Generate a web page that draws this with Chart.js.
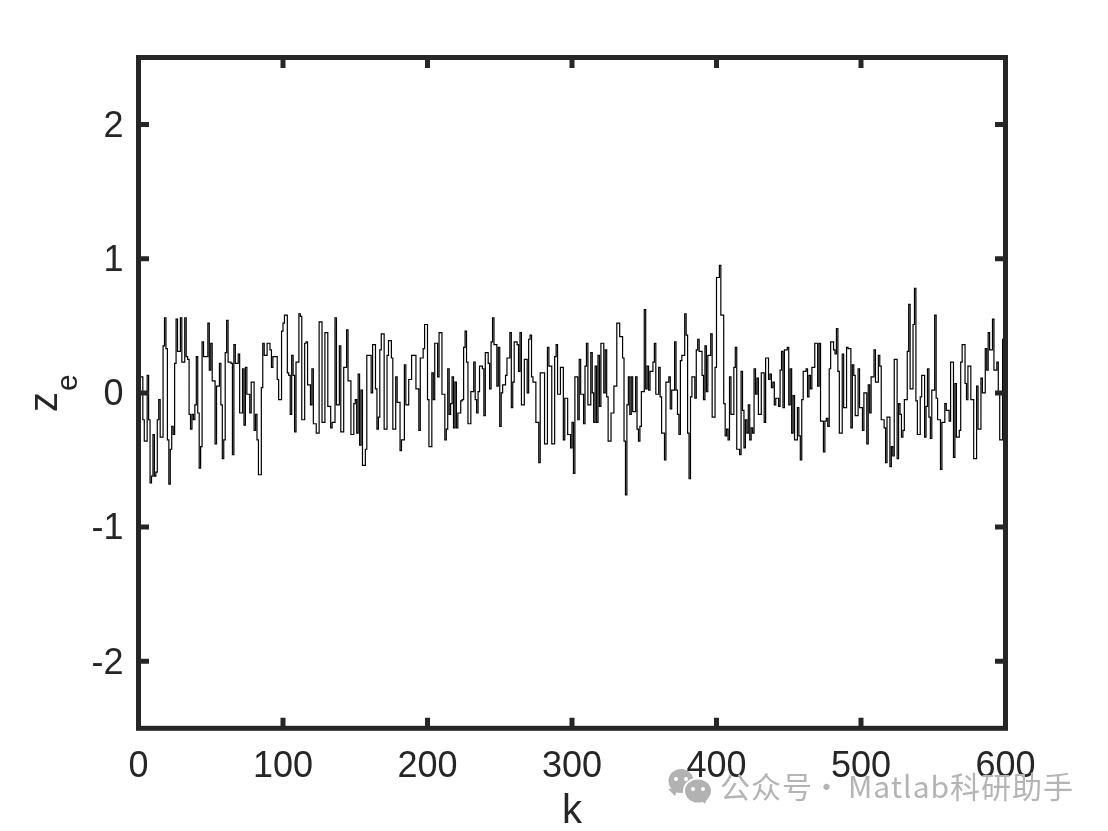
<!DOCTYPE html>
<html>
<head>
<meta charset="utf-8">
<title>z_e vs k</title>
<script src="https://cdn.jsdelivr.net/npm/chart.js@4"></script>
<style>
  html, body { margin: 0; padding: 0; background: #fff; overflow: hidden; }
  canvas { display: block; }
</style>
</head>
<body>
<canvas id="chart-ze" width="1108" height="831"></canvas>
<script>
// ── Data (stairs: k where the level changes, z level there)
const k1 = [0,1,3,4,6,7,8,9,10,11,
  12,13,14,15,17,18,19,20,21,22,
  23,24,25,26,27,29,30,32,33,34,
  35,36,37,38,39,40,41,42,43,44,
  45,47,48,49,50,51,53,54,56,57,
  58,59,60,61,62,64,65,66,67,69,
  70,72,73,74,75,77,78,80,81,82,
  83,85,86,87,89,91,92,93,95,96,
  97,99,100,101,103,104,105,106,107,108,
  109,111,112,113,115,116,117,119,120,121,
  123,125,127,129,130,131,133,134,136,137,
  139,140,142,144,145,147,149,150,151,152,
  153,154,155,157,158,160,161,162,164,165,
  166,167,168,170,172,173,175,176,178,179,
  181,182,184,185,187,189,190,192,194,195,
  197,198,200,201,203];
const z1 = [0,.12,-.20,-.36,.13,-.20,-.67,-.62,-.31,-.62,
  -.59,-.20,-.05,-.33,.35,.56,.33,-.35,-.68,-.42,
  -.25,-.31,.22,.55,.31,.56,.23,.56,.27,.25,
  -.16,-.27,-.16,-.20,-.09,.27,-.15,-.56,-.40,.38,
  .27,.27,.52,.17,.37,.09,-.38,.05,.22,-.09,
  -.49,-.35,.30,.54,.23,.22,-.46,.36,.22,.29,
  -.15,.18,-.24,.19,-.01,-.15,.08,-.28,-.16,-.35,
  -.61,.04,.37,.28,.37,.32,.19,.27,.27,.10,
  -.05,.46,.52,.58,.15,.13,-.16,.28,.13,-.29,
  .23,.59,.57,-.20,.37,.38,.06,-.09,.18,-.23,
  -.30,.53,-.22,.45,.45,-.10,-.26,-.22,.56,-.09,
  .35,-.29,.19,.47,.09,-.31,-.08,-.05,-.30,.14,
  -.39,.02,-.54,-.42,.28,.28,0,.36,.03,-.27,
  -.18,.32,.44,-.27,.28,.39,.26,-.27,.12,-.07,
  -.43,-.35,.21,-.09,.10,.28,.28,.03,-.28,.26,
  .33,.51,-.05,-.40,.15];

const k2 = [204,205,207,208,210,212,213,214,215,216,
  217,218,219,220,221,223,224,225,226,227,
  228,229,230,232,233,234,235,236,238,239,
  240,242,243,244,245,246,248,249,250,251,
  252,254,255,257,258,259,260,262,263,264,
  265,267,269,270,271,272,273,275,277,278,
  280,281,283,284,286,288,289,290,292,294,
  295,297,299,300,301,302,304,305,306,308,
  309,310,311,313,314,315,316,317,318,319,
  320,322,323,324,325,327,329,331,333,335,
  336,337,338,339,340,341,342,344,345,346,
  347,348,350,351,352,353,354,356,357,358,
  360,361,362,364,365,367,368,369,371,372,
  373,374,375,376,378,379,380,381,382,383,
  385,386,387,388,390,391,392,393,394,396,
  397,399,400,402,403,405,406,407,408];
const z2 = [-.05,.37,.12,.45,-.01,-.35,-.27,.18,-.16,-.08,
  .12,-.26,.08,-.26,-.15,-.06,-.05,.34,.46,.23,
  -.23,-.23,.01,.23,-.05,-.15,.01,.20,.18,-.17,
  .30,.22,.03,.38,.56,.36,.05,.34,-.25,0,
  .06,.13,.26,.45,-.11,.08,.38,.36,.16,.45,
  -.09,.25,0,.40,.43,.12,.08,-.22,-.52,.15,
  .15,-.38,.34,.20,-.38,.27,.36,-.01,.19,-.35,
  -.04,-.31,-.41,-.22,-.60,.12,-.20,.25,-.01,-.23,
  .20,.37,-.09,.30,0,-.22,.20,-.22,.28,-.10,
  .37,0,.32,-.03,-.36,-.15,.05,.52,.42,.26,
  -.36,-.76,-.09,.12,-.16,.12,-.14,.12,-.27,-.36,
  -.25,.01,.62,.03,.20,.02,.16,.23,.37,-.01,
  .19,-.03,-.30,-.50,.08,.12,-.12,.02,.38,.02,
  -.16,-.31,.24,.28,.59,.43,-.30,-.64,-.03,.12,
  -.04,.32,.40,.31,.13,-.05,.35,.01,.28,.44,
  -.18,.19,.86,.95,.58,-.08,-.32,-.27,-.35];

const k3 = [409,410,412,413,414,416,417,418,419,420,
  421,422,423,424,425,426,427,428,429,431,
  433,434,436,437,438,439,440,441,443,444,
  445,446,447,449,450,451,452,453,454,456,
  457,458,459,460,462,463,464,465,466,468,
  470,471,472,474,475,476,477,478,479,481,
  482,483,484,485,487,488,490,491,493,494,
  495,496,498,499,501,502,504,505,506,507,
  509,510,512,513,514,516,517,518,520,521,
  522,523,525,526,527,528,529,530,532,533,
  534,536,537,538,539,541,542,544,545,546,
  547,548,549,551,552,553,555,556,558,559,
  561,562,564,565,566,568,569,570,572,573,
  574,576,578,580,581,583,584,586,587,588,
  589,591,592,594,595,596,598,599,600];
const z3 = [.12,-.16,.19,.34,-.42,-.46,.16,-.13,-.41,-.20,
  -.30,-.09,-.35,-.26,-.30,.18,-.01,.11,-.16,.15,
  -.22,.26,.10,.14,.04,.08,-.09,-.04,-.10,.17,
  .31,-.11,.32,.34,-.09,.18,-.30,-.02,-.35,-.11,
  -.32,-.50,-.05,.16,.18,-.03,.13,.03,.19,.37,
  .05,.37,-.21,-.44,-.21,-.19,-.25,.18,.38,.32,
  .29,.48,.16,-.30,.29,-.11,.34,.33,-.26,.21,
  .13,-.17,.18,-.11,-.28,0,-.38,.06,-.15,.12,
  .32,.08,.28,.20,-.20,-.26,-.52,-.18,-.55,-.40,
  -.47,.25,-.49,-.08,-.16,-.33,-.28,-.05,.31,.66,
  .03,.51,.78,-.06,-.31,-.03,.13,-.33,-.10,.18,
  -.18,-.34,.02,.58,-.04,-.20,-.57,-.22,-.08,-.13,
  -.21,.23,-.48,.07,-.33,-.28,.23,.36,.07,-.05,
  .20,-.05,-.49,.05,-.27,.11,0,.33,.17,.45,
  .32,.55,.17,.23,.01,-.35,.40,-.20,.11];

const kValues = [...k1, ...k2, ...k3];
const zValues = [...z1, ...z2, ...z3];

const xTickValues = [0, 100, 200, 300, 400, 500, 600];
const yTickValues = [-2, -1, 0, 1, 2];

const xLabel = 'k';
const yLabelMain = 'z';
const yLabelSub = 'e';

const INK = '#262626';
const FONT = '"Liberation Sans", Arial, sans-serif';

// ── Box + inward ticks, MATLAB style
const boxPlugin = {
  id: 'box',
  afterDatasetsDraw(chart) {
    const { ctx, chartArea: a, scales: { x, y } } = chart;
    ctx.save();
    ctx.strokeStyle = INK;
    ctx.lineWidth = 5;
    ctx.lineCap = 'butt';
    ctx.beginPath();
    xTickValues.forEach(v => {
      const px = x.getPixelForValue(v);
      ctx.moveTo(px, a.bottom); ctx.lineTo(px, a.bottom - 10.5);
      ctx.moveTo(px, a.top); ctx.lineTo(px, a.top + 10.5);
    });
    yTickValues.forEach(v => {
      const py = y.getPixelForValue(v);
      ctx.moveTo(a.left, py); ctx.lineTo(a.left + 10.5, py);
      ctx.moveTo(a.right, py); ctx.lineTo(a.right - 10.5, py);
    });
    ctx.stroke();
    ctx.lineJoin = 'miter';
    ctx.strokeRect(a.left, a.top, a.right - a.left, a.bottom - a.top);
    ctx.restore();
  }
};

// ── z with subscript e, the scale title can't do subscripts
const yLabelPlugin = {
  id: 'yLabel',
  afterDraw(chart) {
    const { ctx } = chart;
    ctx.save();
    ctx.translate(57, 412);
    ctx.rotate(-Math.PI / 2);
    ctx.fillStyle = INK;
    ctx.textAlign = 'left';
    ctx.textBaseline = 'alphabetic';
    ctx.font = `40px ${FONT}`;
    ctx.fillText(yLabelMain, 0, 0);
    ctx.font = `30px ${FONT}`;
    ctx.fillText(yLabelSub, 21, 20);
    ctx.restore();
  }
};

// ── Watermark, bottom right
function bubble(ctx, cx, cy, rx, ry, tailX, tailY, eyeGap) {
  ctx.fillStyle = '#b2b2b2';
  ctx.beginPath();
  ctx.ellipse(cx, cy, rx, ry, 0, 0, Math.PI * 2);
  ctx.fill();
  ctx.beginPath();
  ctx.moveTo(tailX - 7, tailY - 7);
  ctx.lineTo(tailX, tailY);
  ctx.lineTo(tailX + 3, tailY - 8);
  ctx.fill();
  ctx.fillStyle = '#fff';
  [-eyeGap, eyeGap].forEach(d => {
    ctx.beginPath();
    ctx.arc(cx + d, cy - 2, 2, 0, Math.PI * 2);
    ctx.fill();
  });
}

const watermarkPlugin = {
  id: 'watermark',
  afterDraw(chart) {
    const { ctx } = chart;
    ctx.save();
    bubble(ctx, 681, 781, 12.5, 12, 675, 796, 5);
    ctx.fillStyle = '#fff';
    ctx.beginPath();
    ctx.ellipse(698, 791, 15, 13.5, 0, 0, Math.PI * 2);
    ctx.fill();
    bubble(ctx, 698, 791, 13, 11.5, 705, 804, 5);
    ctx.fillStyle = '#b4b4b4';
    ctx.font = '30px "Noto Sans CJK SC", "Noto Sans", sans-serif';
    ctx.letterSpacing = '1px';
    ctx.textBaseline = 'alphabetic';
    ctx.textAlign = 'left';
    ctx.fillText('公众号', 720, 798);
    ctx.fillText('Matlab科研助手', 848, 798);
    ctx.textAlign = 'center';
    ctx.fillText('·', 827, 798);
    ctx.restore();
  }
};

new Chart(document.getElementById('chart-ze'), {
  type: 'line',
  data: {
    datasets: [{
      data: kValues.map((k, i) => ({ x: k, y: zValues[i] })),
      borderColor: '#000',
      borderWidth: 1.2,
      pointRadius: 0,
      stepped: true,
      tension: 0,
    }]
  },
  options: {
    responsive: false,
    animation: false,
    devicePixelRatio: 1,
    layout: { padding: { top: 57.5, right: 102.5, left: 0, bottom: 0 } },
    plugins: { legend: { display: false }, tooltip: { enabled: false } },
    scales: {
      x: {
        type: 'linear', min: 0, max: 600,
        grid: { display: false, drawTicks: false },
        border: { display: false },
        afterBuildTicks: s => { s.ticks = xTickValues.map(v => ({ value: v })); },
        afterFit: s => { s.height = 102.7; },
        ticks: { color: INK, padding: 17, maxRotation: 0, autoSkip: false, font: { family: FONT, size: 36 } },
        title: { display: true, text: xLabel, color: INK, font: { family: FONT, size: 40 }, padding: { top: 0, bottom: -5 } },
      },
      y: {
        min: -2.5, max: 2.5,
        grid: { display: false, drawTicks: false },
        border: { display: false },
        afterBuildTicks: s => { s.ticks = yTickValues.map(v => ({ value: v })); },
        afterFit: s => { s.width = 138.5; },
        ticks: { color: INK, padding: 15, labelOffset: 2.5, autoSkip: false, font: { family: FONT, size: 36 } },
      },
    }
  },
  plugins: [boxPlugin, yLabelPlugin, watermarkPlugin],
});
</script>
</body>
</html>
